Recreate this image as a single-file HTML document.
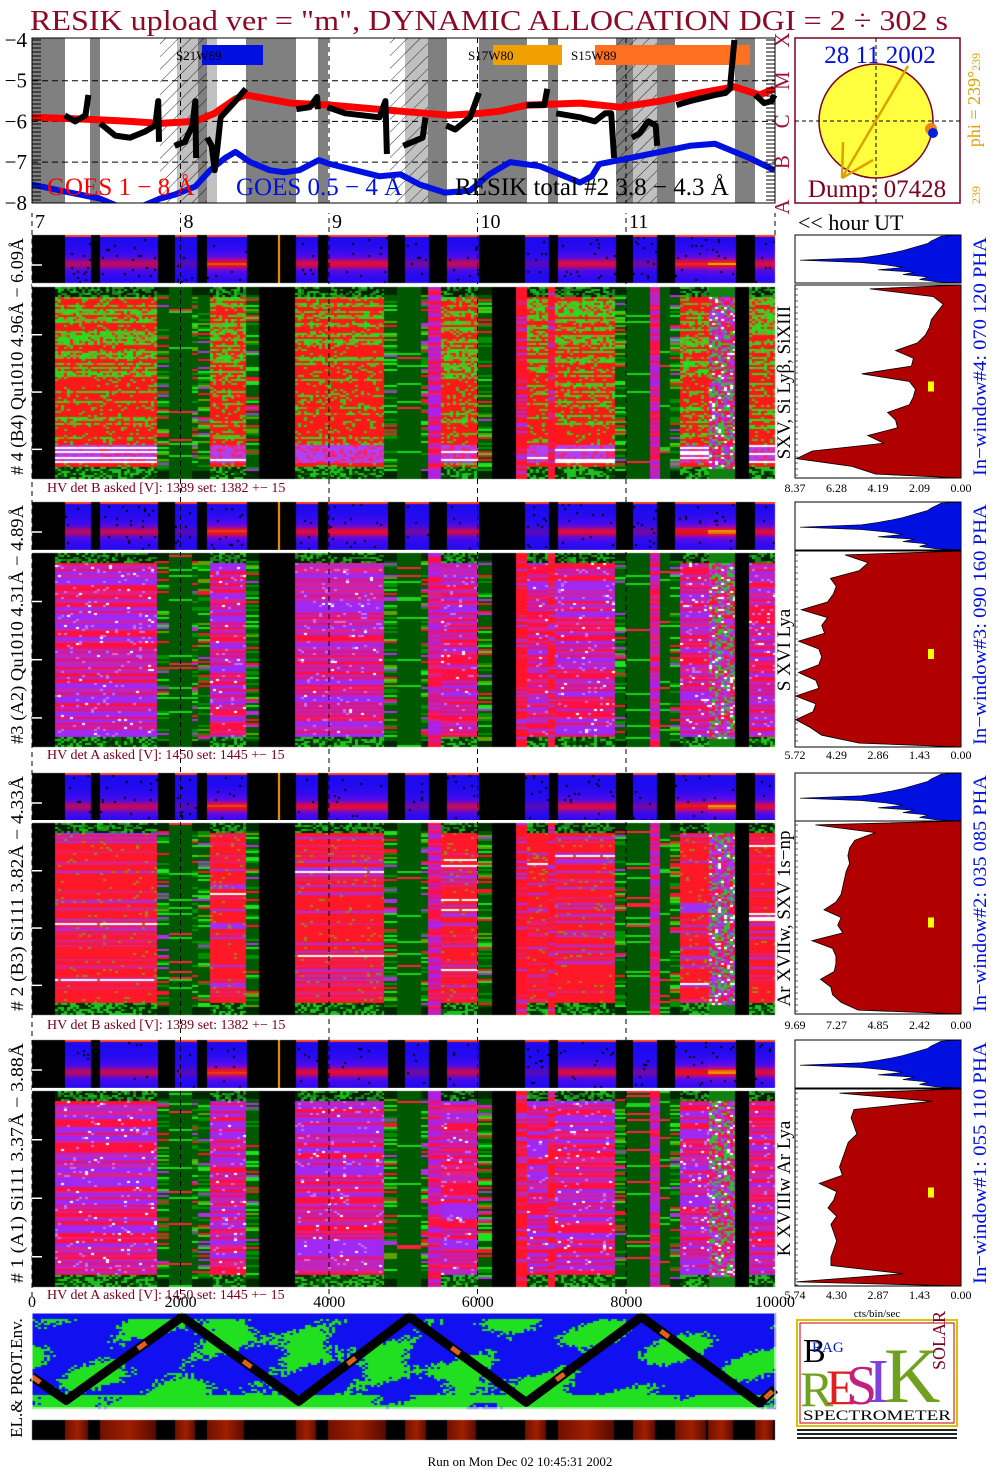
<!DOCTYPE html>
<html><head><meta charset="utf-8">
<style>
html,body{margin:0;padding:0;background:#fff;}
body{width:1004px;height:1477px;position:relative;overflow:hidden;font-family:"Liberation Serif",serif;}
canvas{position:absolute;display:block;}
#ov{position:absolute;left:0;top:0;}
</style></head>
<body>
<canvas id="spec" width="1004" height="1477" style="left:0;top:0"></canvas>
<svg id="ov" width="1004" height="1477" xmlns="http://www.w3.org/2000/svg" font-family="Liberation Serif, serif">
<defs>
<pattern id="hatch" width="9" height="9" patternUnits="userSpaceOnUse" patternTransform="rotate(45)">
<line x1="0" y1="0" x2="0" y2="9" stroke="#000" stroke-width="0.8"/>
</pattern>
</defs>
<text x="30" y="30" font-size="28" fill="#8b0a28" textLength="918" lengthAdjust="spacingAndGlyphs">RESIK upload ver = "m", DYNAMIC ALLOCATION  DGI =   2 ÷ 302 s</text>
<g id="goes"></g>
<g id="sun">
<rect x="795" y="38" width="165" height="165" fill="#fff" stroke="#800020" stroke-width="1.5"/>
<circle cx="876" cy="121" r="57" fill="#ffff40" stroke="#800020" stroke-width="1.5"/>
<line x1="795" y1="121" x2="960" y2="121" stroke="#000" stroke-dasharray="4,3"/>
<line x1="876" y1="38" x2="876" y2="203" stroke="#000" stroke-dasharray="4,3"/>
<line x1="908" y1="66" x2="842" y2="178" stroke="#e0a000" stroke-width="2.5"/>
<line x1="842" y1="178" x2="843" y2="142" stroke="#e0a000" stroke-width="2.5"/>
<line x1="842" y1="178" x2="873" y2="160" stroke="#e0a000" stroke-width="2.5"/>
<circle cx="931" cy="129" r="6" fill="#f08020"/>
<circle cx="933" cy="133" r="5" fill="#0020e0"/>
<text x="880" y="63" font-size="25" fill="#0010e0" text-anchor="middle">28 11 2002</text>
<text x="877" y="197" font-size="25" fill="#800020" text-anchor="middle">Dump: 07428</text>
<text transform="translate(980,100) rotate(-90)" font-size="18" fill="#e0a000" text-anchor="middle">phi = 239°<tspan font-size="12">239</tspan></text>
<text transform="translate(980,195) rotate(-90)" font-size="12" fill="#e0a000" text-anchor="middle">239</text>
</g>
<g id="panels"></g>
<g id="hists"></g>
<g id="env"></g>
<g>
<rect x="797" y="1320" width="160" height="106" fill="#fff" stroke="#e0c000" stroke-width="2"/>
<rect x="800" y="1323" width="154" height="100" fill="none" stroke="#c00000" stroke-width="1"/>
<text x="803" y="1362" font-size="34" fill="#000">B</text>
<text x="812" y="1352" font-size="15" fill="#0020c0">RAG</text>
<text x="800" y="1406" font-size="50" fill="#70a020">R</text>
<text x="826" y="1404" font-size="50" fill="#e02020">E</text>
<text x="846" y="1404" font-size="56" fill="#c02080">S</text>
<text x="868" y="1402" font-size="62" fill="#8040e0">I</text>
<text x="884" y="1402" font-size="78" fill="#70a020">K</text>
<text transform="translate(945,1370) rotate(-90)" font-size="18" fill="#800020">SOLAR</text>
<text x="803" y="1420" font-size="15" fill="#000" textLength="148" lengthAdjust="spacingAndGlyphs">SPECTROMETER</text>
<rect x="797" y="1429" width="160" height="2" fill="#222"/>
<rect x="797" y="1433" width="160" height="2" fill="#222"/>
<rect x="797" y="1437" width="160" height="2" fill="#222"/>
</g>
<text x="520" y="1466" font-size="13" fill="#000" text-anchor="middle">Run on Mon Dec 02 10:45:31 2002</text>
</svg>
<script>
// ===== DATA =====
const hourTicks=[7,8,9,10,11];
const goesLongH=[7.0,7.39,7.66,7.86,8.1,8.23,8.37,8.44,8.74,9.01,9.48,9.81,10.02,10.15,10.33,10.69,10.96,11.23,11.5,11.73,11.9,12.0];
const goesLongV=[-5.9,-5.95,-6.0,-6.05,-6.0,-5.8,-5.45,-5.35,-5.55,-5.6,-5.75,-5.85,-5.8,-5.75,-5.6,-5.55,-5.65,-5.5,-5.3,-5.15,-5.35,-5.2];
const goesShortH=[7.0,7.19,7.46,7.59,7.73,7.86,7.96,8.1,8.2,8.3,8.37,8.47,8.6,8.7,8.8,8.93,9.01,9.34,9.48,9.61,9.78,9.95,10.08,10.22,10.42,10.69,10.77,10.82,11.16,11.43,11.6,11.83,12.0];
const goesShortV=[-7.55,-7.7,-7.9,-8.1,-8.1,-7.9,-7.8,-7.6,-7.2,-6.9,-6.75,-7.0,-7.2,-7.25,-7.2,-6.95,-7.05,-7.35,-7.3,-7.55,-7.75,-7.7,-7.3,-7.0,-7.1,-7.5,-7.35,-7.05,-6.8,-6.6,-6.55,-6.9,-7.2];
const resikSegs=[
[[7.22,-5.85],[7.29,-6.0],[7.36,-5.85],[7.38,-5.35]],
[[7.46,-6.05],[7.56,-6.35],[7.66,-6.4],[7.76,-6.25],[7.83,-6.1],[7.85,-5.5],[7.855,-6.5]],
[[7.96,-6.6],[8.03,-6.5],[8.08,-6.1],[8.1,-5.5],[8.105,-6.9]],
[[8.18,-6.4],[8.21,-6.6],[8.23,-7.2],[8.25,-6.6],[8.27,-5.9],[8.37,-5.5],[8.44,-5.2]],
[[8.78,-5.7],[8.87,-5.65],[8.92,-5.4],[8.925,-5.7]],
[[8.99,-5.65],[9.11,-5.8],[9.34,-5.9],[9.38,-5.5],[9.39,-6.8]],
[[9.5,-6.6],[9.63,-6.4],[9.65,-5.9]],
[[9.79,-6.1],[9.85,-6.2],[9.95,-5.9],[10.01,-5.3]],
[[10.33,-5.6],[10.38,-5.6],[10.45,-5.6],[10.47,-5.2]],
[[10.53,-5.8],[10.69,-5.9],[10.79,-6.0],[10.86,-5.8],[10.9,-5.8],[10.92,-6.9]],
[[11.04,-6.4],[11.09,-6.3],[11.15,-6.0],[11.2,-6.1],[11.21,-6.6]],
[[11.34,-5.6],[11.43,-5.5],[11.6,-5.35],[11.67,-5.3],[11.7,-5.2],[11.73,-4.0]],
[[11.87,-5.35],[11.93,-5.55],[11.98,-5.5],[12.0,-5.35]]];
const hist4=[4.6,1.4,0.9,1.2,1.5,1.6,1.8,2.2,3.3,2.4,2.5,5.0,2.6,2.3,2.4,2.6,3.7,3.3,3.2,4.7,3.9,7.5,8.3,5.5,4.3];
const hist3=[4.0,3.2,3.5,4.5,4.3,4.4,4.6,5.5,4.6,4.8,4.7,5.6,4.9,4.8,4.9,5.6,5.0,4.9,5.7,5.0,5.1,5.7,5.2,4.8,3.5];
const hist2=[8.5,5.0,6.2,6.5,6.6,6.5,6.7,6.8,6.9,7.0,7.3,8.0,7.0,7.2,6.9,8.7,7.5,7.3,7.3,7.4,8.2,7.6,7.5,7.0,6.0];
const hist1=[4.2,1.0,3.7,3.8,3.7,3.6,3.9,4.0,4.1,4.2,4.1,4.9,4.3,4.4,4.6,4.3,4.5,4.4,4.3,4.4,4.5,4.5,2.0,5.7];
const histMax=[8.37,5.72,9.69,5.74];
const histTicks4=["8.37","6.28","4.19","2.09","0.00"];
const histTicks3=["5.72","4.29","2.86","1.43","0.00"];
const histTicks2=["9.69","7.27","4.85","2.42","0.00"];
const histTicks1=["5.74","4.30","2.87","1.43","0.00"];
const phaSmall=[0.12,0.15,0.18,0.2,0.25,0.3,0.35,0.42,0.5,0.6,0.97,0.6,0.45,0.35,0.5,0.28,0.35,0.2,0.25,0.15];
const envTicks=["0","2000","4000","6000","8000","10000"];
const zigX=[0,460,2020,3590,5080,6650,8200,9790,10000];
const zigY=[0.67,0.92,0.04,0.93,0.04,0.94,0.04,0.95,0.8];

// ===== GEOMETRY =====
const X0=32,X1=775,PXH=148.5;
const hx=h=>X0+(h-7)*PXH;
const fy=v=>40+(-v-4)*40.7;
const svgNS="http://www.w3.org/2000/svg";
function el(tag,attrs,parent,txt){const e=document.createElementNS(svgNS,tag);for(const k in attrs)e.setAttribute(k,attrs[k]);if(txt!==undefined)e.textContent=txt;parent.appendChild(e);return e;}

// ===== GOES PLOT =====
const g=document.getElementById('goes');
const bands=[[32,65,'d'],[90,100,'d'],[160,177,'hw'],[177,198,'hl'],[198,207,'hd'],[207,217,'l'],[246,296,'d'],[318,328,'d'],[390,405,'hw'],[405,428,'hl'],[428,447,'d'],[479,527,'d'],[548,558,'d'],[616,633,'hd'],[633,657,'hl'],[657,675,'d'],[735,755,'d']];
bands.forEach(b=>{const c=b[2].indexOf('d')>=0?'#808080':(b[2].indexOf('l')>=0?'#c0c0c0':'#fff');
 el('rect',{x:b[0],y:38,width:b[1]-b[0],height:165,fill:c},g);
 if(b[2][0]==='h')el('rect',{x:b[0],y:38,width:b[1]-b[0],height:165,fill:'url(#hatch)'},g);});
[-5,-6,-7].forEach(v=>el('line',{x1:X0,x2:X1,y1:fy(v),y2:fy(v),stroke:'#000','stroke-dasharray':'6,4'},g));
hourTicks.slice(1).forEach(h=>el('line',{x1:hx(h),x2:hx(h),y1:38,y2:1300,stroke:'#000','stroke-dasharray':'5,4'},g));
el('line',{x1:X0,x2:X0,y1:203,y2:1300,stroke:'#000','stroke-dasharray':'5,4'},g);
el('line',{x1:X1,x2:X1,y1:203,y2:235,stroke:'#000','stroke-dasharray':'5,4'},g);
el('rect',{x:202,y:45,width:61,height:20,fill:'#0010e0'},g);
el('rect',{x:493,y:45,width:69,height:20,fill:'#f0a000'},g);
el('rect',{x:595,y:45,width:155,height:20,fill:'#ff7020'},g);
[['S21W89',176],['S17W80',468],['S15W89',571]].forEach(t=>el('text',{x:t[1],y:60,'font-size':13,fill:'#000'},g,t[0]));
function line(hs,vs,col,w,name){let d='';hs.forEach((h,i)=>{d+=(i?'L':'M')+hx(h).toFixed(1)+','+fy(vs[i]).toFixed(1);});
 const p=el('path',{d:d,fill:'none',stroke:col,'stroke-width':w,'stroke-linejoin':'round'},g);}
line(goesLongH,goesLongV,'#ff0000',7,'goes-long-line');
line(goesShortH,goesShortV,'#0010e0',6,'goes-short-line');
resikSegs.forEach(s=>line(s.map(p=>p[0]),s.map(p=>p[1]),'#000',6,'resik-total-line'));
el('rect',{x:0,y:203,width:780,height:10,fill:'#fff'},g);
el('rect',{x:X0,y:38,width:X1-X0,height:165,fill:'none',stroke:'#000'},g);
for(let y=40;y<=200;y+=4){el('line',{x1:X0,x2:X0+9,y1:y,y2:y,stroke:'#000'},g);el('line',{x1:X1-9,x2:X1,y1:y,y2:y,stroke:'#000'},g);}
[-4,-5,-6,-7,-8].forEach(v=>{const t=el('text',{x:27,y:fy(v)+7,'font-size':21,'text-anchor':'end',fill:'#000'},g,'\u2212'+(-v));});
[['A',-8.1],['B',-7],['C',-6],['M',-5],['X',-4]].forEach(a=>el('text',{transform:`translate(789,${fy(a[1])}) rotate(-90)`,'font-size':21,fill:'#a01030','text-anchor':'middle'},g,a[0]));
el('text',{x:47,y:195,'font-size':25,fill:'#ff0000'},g,'GOES 1 \u2212 8 \u00c5');
el('text',{x:236,y:195,'font-size':25,fill:'#0010e0'},g,'GOES 0.5 \u2212 4 \u00c5');
el('text',{x:455,y:195,'font-size':25,fill:'#000'},g,'RESIK total #2  3.8 \u2212 4.3 \u00c5');
hourTicks.forEach(h=>{const t=el('text',{x:hx(h)+3,y:228,'font-size':20,fill:'#000'},g,String(h));});
el('text',{x:798,y:230,'font-size':22,fill:'#000'},g,'<< hour UT');

// ===== PANELS (canvas textures) =====
const cv=document.getElementById('spec');const ctx=cv.getContext('2d');
function hs(a,b,c){let x=Math.sin(a*127.1+b*311.7+c*74.7)*43758.5453;return x-Math.floor(x);}
const panels=[
 {id:4,sy:235,by:287,bh:191,ty:492,hv:'HV det B asked [V]:  1389 set:  1382 +\u2212   15',lab:'# 4 (B4) Qu1010 4.96\u00c5 \u2212 6.09\u00c5',line:'SXV, Si Ly\u03b2, SiXIII',win:'In\u2212window#4:  070 120 PHA',hist:hist4,ht:histTicks4,band:0.58},
 {id:3,sy:502,by:553,bh:194,ty:759,hv:'HV det A asked [V]:  1450 set:  1445 +\u2212   15',lab:'#3 (A2) Qu1010  4.31\u00c5 \u2212 4.89\u00c5',line:'S XVI Lya',win:'In\u2212window#3:  090 160 PHA',hist:hist3,ht:histTicks3,band:0.6},
 {id:2,sy:773,by:823,bh:191,ty:1029,hv:'HV det B asked [V]:  1389 set:  1382 +\u2212   15',lab:'# 2 (B3) Si111  3.82\u00c5 \u2212 4.33\u00c5',line:'Ar XVIIw,  SXV  1s\u2212np',win:'In\u2212window#2:  035 085 PHA',hist:hist2,ht:histTicks2,band:0.68},
 {id:1,sy:1040,by:1091,bh:195,ty:1299,hv:'HV det A asked [V]:  1450 set:  1445 +\u2212   15',lab:'# 1 (A1) Si111  3.37\u00c5 \u2212 3.88\u00c5',line:'K XVIIIw  Ar Lya',win:'In\u2212window#1:  055 110 PHA',hist:hist1,ht:histTicks1,band:0.65}];
const segs=[[32,55,'k'],[55,157,'m'],[157,169,'s'],[169,192,'g'],[192,198,'s'],[198,210,'s'],[210,246,'m'],[246,259,'s'],[259,295,'k'],[295,384,'m'],[384,397,'s'],[397,421,'g'],[421,428,'s'],[428,441,'p'],[441,478,'m'],[478,492,'s'],[492,516,'k'],[516,527,'r'],[527,548,'m'],[548,555,'r'],[555,615,'m'],[615,626,'s'],[626,650,'g'],[650,660,'p'],[660,670,'g'],[670,680,'s'],[680,709,'m'],[709,735,'n'],[735,749,'k'],[749,775,'m']];
const blueSegs=[[65,90],[100,158],[175,197],[207,246],[296,318],[328,388],[405,428],[447,478],[525,548],[558,616],[633,657],[675,708],[708,735],[755,775]];
const blueInt=[0.55,0.6,0.2,0.9,0.7,0.75,0.3,0.6,0.2,0.7,0.3,0.85,1.0,0.7];
function mixColor(p,f,rh,ch){
 if(f<0.05) return ch<0.5?'#002000':(ch<0.8?'#208020':'#10c010');
 if(f>0.94) return ch<0.4?'#003000':(ch<0.8?'#20c020':'#006000');
 if(p===4){
  if(f>0.82&&f<0.92) return rh>0.75?'#ffffff':(ch>0.7?'#ff2060':'#b040f0');
  const gp=f<0.45?0.6:0.25;
  if(rh<gp) return ch<0.45?'#20e020':(ch<0.75?'#80a020':'#ff2020');
  return ch>0.85?'#40c020':'#ff1818';
 }
 if(p===2){
  if(ch>0.96) return '#a08020';
  if(rh<0.7) return '#ff1828'; if(rh<0.85) return '#e0207a'; if(rh<0.97) return '#a030f0'; return '#ffffff';
 }
 if(ch>0.985) return '#ffffff'; if(ch>0.94) return '#c070ff';
 if(rh<0.45) return '#a028f0'; if(rh<0.82) return '#ff1040'; return '#e02088';
}
function segColor(t,p,f,rh,ch){
 if(t==='k') return '#000';
 if(t==='m') return mixColor(p,f,rh,ch);
 if(t==='s'){ if(f<0.04||f>0.96) return '#002800'; if(rh<0.55)return '#005a00'; if(rh<0.7)return '#009000'; if(rh<0.8)return '#20e020'; if(rh<0.88)return '#ff1030'; if(rh<0.95)return '#b030e0'; return '#60a000';}
 if(t==='g') return rh>0.94?'#20d020':(rh>0.9?'#ff2040':'#005800');
 if(t==='p') return rh<0.45?'#b020e0':(rh<0.8?'#ff1040':'#e02080');
 if(t==='r') return rh<0.7?'#ff1428':(rh<0.85?'#e02070':'#a030f0');
 if(t==='n'){ if(f<0.05||f>0.95) return '#108010'; const c=ch; return c<0.35?'#b030f0':(c<0.65?'#ff1040':(c<0.92?'#30c030':'#ffffff'));}
}
panels.forEach(P=>{
 ctx.fillStyle='#000';ctx.fillRect(X0,P.sy,X1-X0,48);
 blueSegs.forEach((s,si)=>{const I=blueInt[si];
  for(let y=0;y<48;y+=2)for(let x=s[0];x<s[1];x+=2){
   const f=y/48;const d=I*Math.exp(-Math.pow((f-P.band)/0.09,2));const halo=I*0.7*Math.exp(-Math.pow((f-P.band)/0.28,2));
   let r=30+200*Math.min(1,d+halo*0.6),gg=d>0.8?180*(d-0.8)/0.2:10,b=240*(1-Math.min(1,d*1.1));
   if(hs(x,y,P.id+si)>0.975&&d<0.3){r=0;gg=0;b=0;}
   if(y<2){r=255;gg=60;b=20;}
   ctx.fillStyle=`rgb(${r|0},${gg|0},${b|0})`;ctx.fillRect(x,P.sy+y,2,2);}
 });
 ctx.fillStyle='#ffa000';ctx.fillRect(278,P.sy,2,48);
 segs.forEach((s,si)=>{
  for(let y=0;y<P.bh;y+=2){const f=y/P.bh;const rh=hs(Math.floor(y/2),si*7+1,P.id);
   for(let x=s[0];x<s[1];x+=3){const ch=hs(x,y,P.id*13+si);
    ctx.fillStyle=segColor(s[2],P.id,f,rh,ch);ctx.fillRect(x,P.by+y,Math.min(3,s[1]-x),2);}}
 });
});
const pg=document.getElementById('panels');
panels.forEach(P=>{
 el('line',{x1:X0,x2:X1,y1:P.by-2,y2:P.by-2,stroke:'#fff','stroke-width':2},pg);
 [0.25,0.55,0.85].forEach(f=>el('line',{x1:X0,x2:X0+10,y1:P.by+P.bh*f,y2:P.by+P.bh*f,stroke:'#fff','stroke-width':1.5},pg));
 el('line',{x1:X0,x2:X0+10,y1:P.sy+30,y2:P.sy+30,stroke:'#fff','stroke-width':1.5},pg);
 el('text',{x:47,y:P.ty,'font-size':14,fill:'#800020'},pg,P.hv);
 const mid=(P.sy+P.by+P.bh)/2;
 const t=el('text',{transform:`translate(23,${mid}) rotate(-90)`,'font-size':18,fill:'#000','text-anchor':'middle',textLength:P.by+P.bh-P.sy-6,lengthAdjust:'spacingAndGlyphs'},pg,P.lab);
 
 el('text',{transform:`translate(790,${P.by+P.bh/2}) rotate(-90)`,'font-size':19,fill:'#000','text-anchor':'middle'},pg,P.line);
 const w=el('text',{transform:`translate(986,${mid}) rotate(-90)`,'font-size':19,fill:'#0010e0','text-anchor':'middle',textLength:P.by+P.bh-P.sy-4,lengthAdjust:'spacingAndGlyphs'},pg,P.win);
 
});

// ===== HISTOGRAMS =====
const hg=document.getElementById('hists');
const HX0=795,HX1=961;
panels.forEach((P,pi)=>{
 el('rect',{x:HX0,y:P.sy,width:HX1-HX0,height:48,fill:'#fff',stroke:'#000'},hg);
 let d='M'+HX1+','+P.sy;phaSmall.forEach((v,i)=>{const y=P.sy+(i+0.5)*48/phaSmall.length;d+='L'+(HX1-v*(HX1-HX0)).toFixed(1)+','+y.toFixed(1);});
 d+='L'+HX1+','+(P.sy+48)+'Z';
 const sp=el('path',{d:d,fill:'#0010e0',stroke:'#000','stroke-width':0.6},hg);
 
 const top=P.by-2,h=P.bh+2,arr=P.hist,mx=histMax[pi];
 el('rect',{x:HX0,y:top,width:HX1-HX0,height:h,fill:'#fff',stroke:'#000'},hg);
 let dd='M'+HX1+','+top;const n=arr.length;
 arr.forEach((v,i)=>{const y=top+(i+0.5)*h/n;const x=HX1-v/mx*(HX1-HX0);dd+='L'+x.toFixed(1)+','+y.toFixed(1);});
 dd+='L'+HX1+','+(top+h)+'Z';
 const bp=el('path',{d:dd,fill:'#b00000',stroke:'#000','stroke-width':0.8},hg);
 
 el('rect',{x:928,y:top+h*0.5,width:6,height:10,fill:'#ffff00'},hg);
 for(let y=top+4;y<top+h;y+=6)el('line',{x1:HX0,x2:HX0+3,y1:y,y2:y,stroke:'#000','stroke-width':0.6},hg);
 P.ht.forEach((t,i)=>el('text',{x:HX0+i*(HX1-HX0)/4,y:P.ty,'font-size':12,fill:'#000','text-anchor':'middle'},hg,t));
});
el('text',{x:877,y:1317,'font-size':11,fill:'#000','text-anchor':'middle'},hg,'cts/bin/sec');

// ===== ENV PANEL =====
const E0=1313,EH=95;
for(let y=0;y<EH;y+=2)for(let x=X0;x<X1;x+=3){
 const u=(x-X0)/(X1-X0),f=y/EH;
 const n=Math.sin(u*50+f*6)*0.5+Math.sin(u*13-f*9)*0.5+Math.sin(u*31+f*17)*0.3+hs(x,y,9)*0.6;
 const gr=(f>0.85)?(n>-0.6):(f<0.05?false:n>0.55);
 ctx.fillStyle=gr?'#20e020':'#1010f0';ctx.fillRect(x,E0+y,3,2);}
ctx.fillStyle='#000';ctx.fillRect(X0,1420,X1-X0,20);
blueSegs.forEach((s,si)=>{const gd=ctx.createLinearGradient(s[0],0,s[1],0);gd.addColorStop(0,'#701000');gd.addColorStop(0.5,'#a02000');gd.addColorStop(1,'#500800');
 ctx.fillStyle=gd;ctx.fillRect(s[0],1420,s[1]-s[0]-2,20);});
const eg=document.getElementById('env');
const ex=v=>X0+v/10000*(X1-X0);
let zd='';zigX.forEach((v,i)=>{zd+=(i?'L':'M')+ex(v).toFixed(1)+','+(E0+zigY[i]*EH).toFixed(1);});
const zz=el('path',{d:zd,fill:'none',stroke:'#000','stroke-width':9,'stroke-linejoin':'round'},eg);

el('path',{d:zd,fill:'none',stroke:'#e06020','stroke-width':5,'stroke-dasharray':'10,120'},eg);
el('rect',{x:X0,y:E0,width:X1-X0,height:EH,fill:'none',stroke:'#fff'},eg);
envTicks.forEach(t=>{const tt=el('text',{x:ex(+t),y:1307,'font-size':16,fill:'#000','text-anchor':'middle'},eg,t);});
el('text',{transform:'translate(22,1378) rotate(-90)','font-size':17,fill:'#000','text-anchor':'middle'},eg,'EL.& PROT.Env.');
</script>
</body></html>
